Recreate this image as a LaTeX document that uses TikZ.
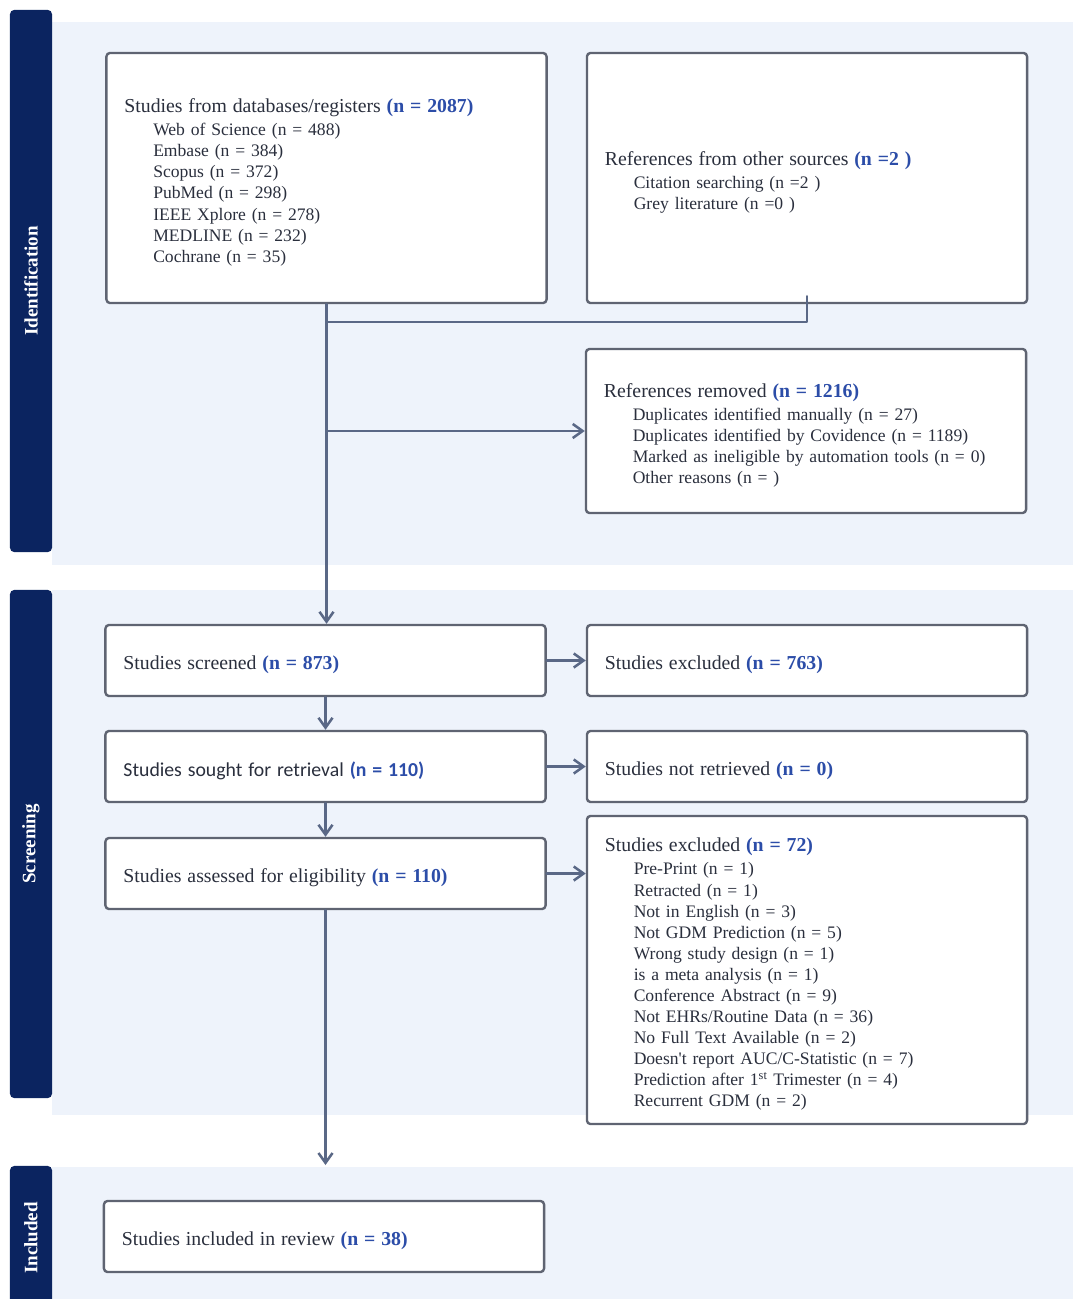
\documentclass[tikz,border=0pt]{standalone}
\usepackage{fontspec}
\setmainfont{Liberation Serif}
\newfontfamily\calibri{Carlito}
\usetikzlibrary{arrows.meta}

\definecolor{navy}{HTML}{0B2460}
\definecolor{bandblue}{HTML}{EEF3FB}
\definecolor{boxline}{HTML}{5F6472}
\definecolor{linkc}{HTML}{5A6886}
\definecolor{txt}{HTML}{2A2F3D}
\definecolor{numblue}{HTML}{2C4DA8}

\newcommand{\cnt}[1]{\textcolor{numblue}{\textbf{(#1)}}}
\newcommand{\itemind}{\hspace*{0.72cm}}
\newcommand{\headsize}{\fontsize{14.05}{15}\selectfont}

\begin{document}
\begin{tikzpicture}[x=0.025cm, y=-0.025cm, line cap=round, line join=round,
    >={Straight Barb[length=7pt, width=10pt]},
    box/.style={draw=boxline, line width=1.7pt, fill=white, rounded corners=2.5pt,
        minimum width=11cm, text width=10.1cm, inner xsep=0.45cm, align=left,
        text=txt, font=\fontsize{12.5}{15}\selectfont,
        execute at begin node={\rule{0pt}{0.56cm}}},
    bar/.style={fill=navy, rounded corners=3pt, rotate=90, minimum height=1.05cm,
        text=white, font=\bfseries\fontsize{13.5}{15}\selectfont},
    band/.style={fill=bandblue},
    link/.style={draw=linkc, line width=1.8pt}]

    \useasboundingbox (0,0) rectangle (1073,1299);

    % Background bands
    \fill[band] (52,22) rectangle (1073,565);
    \fill[band] (52,590) rectangle (1073,1115);
    \fill[band] (52,1167) rectangle (1073,1299);

    % Phase bars
    \node[bar, minimum width=13.55cm] (idbar) at (31,281) {Identification};
    \node[bar, minimum width=12.7cm] (scbar) at (31,844) {Screening};
    \node[bar, minimum width=3.6cm] (inbar) at (31,1238) {Included};

    % Identification
    \node[box, minimum height=6.25cm] (db) at (326.5,178) {%
        {\headsize Studies from databases/registers \cnt{n = 2087}}\\[1.5pt]
        \itemind Web of Science (n = 488)\\
        \itemind Embase (n = 384)\\
        \itemind Scopus (n = 372)\\
        \itemind PubMed (n = 298)\\
        \itemind IEEE Xplore (n = 278)\\
        \itemind MEDLINE (n = 232)\\
        \itemind Cochrane (n = 35)};
    \node[box, minimum height=6.25cm] (other) at (807,178) {%
        {\headsize References from other sources \cnt{n =2 }}\\[1.5pt]
        \itemind Citation searching (n =2 )\\
        \itemind Grey literature (n =0 )};
    \node[box, minimum height=4.1cm] (removed) at (806,431) {%
        {\headsize References removed \cnt{n = 1216}}\\[1.5pt]
        \itemind Duplicates identified manually (n = 27)\\
        \itemind Duplicates identified by Covidence (n = 1189)\\
        \itemind Marked as ineligible by automation tools (n = 0)\\
        \itemind Other reasons (n = )};

    % Screening
    \node[box, minimum height=1.775cm] (screened) at (325.5,660.5)
        {\headsize Studies screened \cnt{n = 873}};
    \node[box, minimum height=1.775cm] (excl1) at (807,660.5)
        {\headsize Studies excluded \cnt{n = 763}};
    \node[box, minimum height=1.775cm] (sought) at (325.5,766.5)
        {\calibri\headsize Studies sought for retrieval \cnt{n = 110}};
    \node[box, minimum height=1.775cm] (notret) at (807,766.5)
        {\headsize Studies not retrieved \cnt{n = 0}};
    \node[box, minimum height=1.775cm] (assessed) at (325.5,873.5)
        {\headsize Studies assessed for eligibility \cnt{n = 110}};
    \node[box, minimum height=7.7cm] (excl2) at (807,970) {%
        {\headsize Studies excluded \cnt{n = 72}}\\[1.5pt]
        \itemind Pre-Print (n = 1)\\
        \itemind Retracted (n = 1)\\
        \itemind Not in English (n = 3)\\
        \itemind Not GDM Prediction (n = 5)\\
        \itemind Wrong study design (n = 1)\\
        \itemind is a meta analysis (n = 1)\\
        \itemind Conference Abstract (n = 9)\\
        \itemind Not EHRs/Routine Data (n = 36)\\
        \itemind No Full Text Available (n = 2)\\
        \itemind Doesn\textquotesingle t report AUC/C-Statistic (n = 7)\\
        \itemind Prediction after 1\textsuperscript{st} Trimester (n = 4)\\
        \itemind Recurrent GDM (n = 2)};

    % Included
    \node[box, minimum height=1.775cm] (included) at (324,1236.5)
        {\headsize Studies included in review \cnt{n = 38}};

    % Connectors
    \coordinate (join) at (326.5,322);
    \coordinate (inctop) at (325.5,1165);
    \draw[link] ([yshift=0.2cm]other.south) |- (join);
    \draw[link, ->] (db.south) -- (db.south |- screened.north);
    \draw[link, ->] (db.south |- removed.west) -- (removed.west);
    \draw[link, ->] (screened.east) -- (excl1.west);
    \draw[link, ->] (screened.south) -- (sought.north);
    \draw[link, ->] (sought.east) -- (notret.west);
    \draw[link, ->] (sought.south) -- (assessed.north);
    \draw[link, ->] (assessed.east) -- (assessed.east -| excl2.west);
    \draw[link, ->] (assessed.south) -- (inctop);

\end{tikzpicture}
\end{document}
